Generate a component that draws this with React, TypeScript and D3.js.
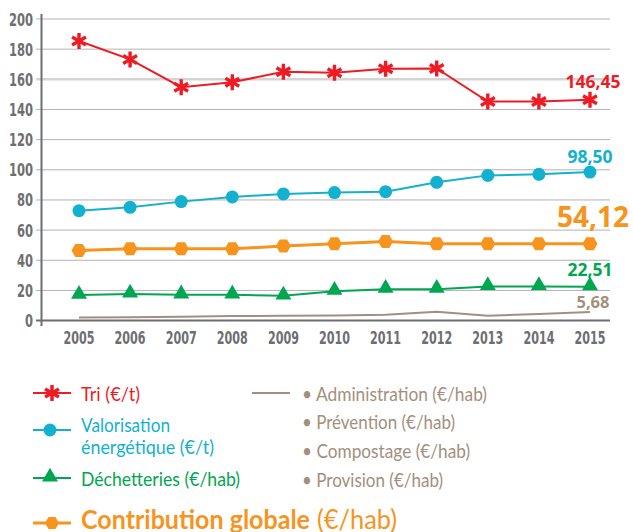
import * as d3 from 'd3';

const years = ['2005', '2006', '2007', '2008', '2009', '2010', '2011', '2012', '2013', '2014', '2015'];
const tri = [185.4, 173.2, 154.8, 158.1, 165.0, 164.4, 167.0, 167.2, 145.3, 145.3, 146.45];
const valorisation = [72.9, 75.1, 78.9, 82.0, 84.0, 84.9, 85.5, 91.7, 96.3, 97.0, 98.5];
const contribution = [46.5, 47.6, 47.6, 47.6, 49.4, 51.0, 52.5, 51.0, 51.0, 51.0, 51.0];
const dechetteries = [16.9, 17.7, 17.1, 17.1, 16.4, 19.5, 20.8, 20.8, 22.6, 22.6, 22.51];
const administration = [2.0, 2.3, 2.6, 3.0, 3.2, 3.3, 3.8, 5.9, 3.2, 4.3, 5.68];
const yTicks = [0, 20, 40, 60, 80, 100, 120, 140, 160, 180, 200];
const endLabels = ['146,45', '98,50', '54,12', '22,51', '5,68'];
const otherItems = ['Administration (€/hab)', 'Prévention (€/hab)', 'Compostage (€/hab)', 'Provision (€/hab)'];
const otherWidths = [185, 153, 168, 141];

const RED = '#ed1c24';
const BLUE = '#13b1cf';
const GREEN = '#00a651';
const ORANGE = '#f7941d';
const BROWN = '#a38f7d';
const GREY = '#6d6e71';

const tickFont = "'Liberation Sans Narrow', 'DejaVu Sans Condensed', sans-serif";
const labelFont = "'Open Sans', sans-serif";
const legendFont = "Lato, 'Open Sans', sans-serif";

const x = d3.scalePoint<string>().domain(years).range([79, 590]);
const y = d3.scaleLinear().domain([0, 200]).range([320.6, 19]);

const line = d3
  .line<number>()
  .x((_, i) => x(years[i])!)
  .y((d) => y(d));

function star(cx: number, cy: number, r = 7) {
  const p = d3.path();
  for (let k = 0; k < 3; k++) {
    const a = (Math.PI / 3) * k + Math.PI / 2;
    p.moveTo(cx + r * Math.cos(a), cy + r * Math.sin(a));
    p.lineTo(cx - r * Math.cos(a), cy - r * Math.sin(a));
  }
  return p.toString();
}

function hexagon(cx: number, cy: number, r = 7) {
  const pts = d3.range(6).map((k) => {
    const a = (Math.PI / 3) * k;
    return [cx + r * Math.cos(a), cy + r * Math.sin(a)] as [number, number];
  });
  return 'M' + pts.map((p) => p.join(',')).join('L') + 'Z';
}

const triangle = d3.symbol(d3.symbolTriangle, 110);

// squeeze text to the width measured on the reference
const fit = (w: number) => ({ textLength: w, lengthAdjust: 'spacingAndGlyphs' as const });

function Legend() {
  return (
    <g fontFamily={legendFont}>
      {/* Tri */}
      <line x1={33} x2={71} y1={393} y2={393} stroke={RED} strokeWidth={2} />
      <path d={star(52, 393, 8)} stroke={RED} strokeWidth={3.5} />
      <text x={81} y={401} fill={RED} fontSize={20} {...fit(59)}>Tri (€/t)</text>
      {/* Valorisation */}
      <line x1={33} x2={71} y1={430} y2={430} stroke={BLUE} strokeWidth={2} />
      <circle cx={50} cy={430} r={6.5} fill={BLUE} />
      <text x={81} y={432} fill={BLUE} fontSize={20} {...fit(89)}>Valorisation</text>
      <text x={81} y={454} fill={BLUE} fontSize={20} {...fit(133)}>énergétique (€/t)</text>
      {/* Déchetteries */}
      <line x1={33} x2={71} y1={478} y2={478} stroke={GREEN} strokeWidth={2} />
      <path d={triangle()!} transform={`translate(50,477)`} fill={GREEN} />
      <text x={81} y={486} fill={GREEN} fontSize={20} {...fit(159)}>Déchetteries (€/hab)</text>
      {/* Contribution */}
      <line x1={33} x2={71} y1={523} y2={523} stroke={ORANGE} strokeWidth={3} />
      <path d={hexagon(52, 523, 7)} fill={ORANGE} />
      <text x={81} y={529} fill={ORANGE} fontSize={27} fontWeight={700} {...fit(229)}>
        Contribution globale
      </text>
      <text x={317} y={529} fill={ORANGE} fontSize={27} {...fit(80)}>
        (€/hab)
      </text>
      {/* Other */}
      <line x1={252} x2={290} y1={393} y2={393} stroke={BROWN} strokeWidth={2} />
      {otherItems.map((t, i) => (
        <text key={t} x={302} y={400.5 + i * 28.7} fill={BROWN} fontSize={20} {...fit(otherWidths[i])}>
          • {t}
        </text>
      ))}
    </g>
  );
}

export default function App() {
  const series = [
    { data: tri, color: RED, w: 2 },
    { data: valorisation, color: BLUE, w: 2 },
    { data: contribution, color: ORANGE, w: 3 },
    { data: dechetteries, color: GREEN, w: 2 },
    { data: administration, color: BROWN, w: 2 },
  ];
  return (
    <svg width={633} height={532} style={{ position: 'absolute', left: 0, top: 0, background: '#fff' }}>
      {/* grid */}
      {yTicks.slice(1).map((t) => (
        <line
          key={t}
          x1={36}
          x2={610}
          y1={y(t)}
          y2={y(t)}
          stroke={t === 160 ? '#d4d4d4' : '#b3b3b3'}
          strokeWidth={t === 160 ? 2.5 : 1}
        />
      ))}
      {/* axes */}
      <line x1={41.5} x2={41.5} y1={14} y2={326} stroke={GREY} strokeWidth={2} />
      <line x1={36} x2={610} y1={y(0)} y2={y(0)} stroke={GREY} strokeWidth={2} />
      {yTicks.map((t) => (
        <text
          key={t}
          x={33}
          y={y(t) + 6.5}
          textAnchor="end"
          fontFamily={tickFont}
          fontWeight={700}
          fontSize={18}
          fill={GREY}
          {...fit(String(t).length * 8)}
        >
          {t}
        </text>
      ))}
      {years.map((yr) => (
        <text
          key={yr}
          x={x(yr)}
          y={343.5}
          textAnchor="middle"
          fontFamily={tickFont}
          fontWeight={700}
          fontSize={18}
          fill={GREY}
          {...fit(31)}
        >
          {yr}
        </text>
      ))}
      {/* lines */}
      {series.map((s, i) => (
        <path key={i} d={line(s.data)!} fill="none" stroke={s.color} strokeWidth={s.w} />
      ))}
      {/* markers */}
      {tri.map((v, i) => (
        <path key={'t' + i} d={star(x(years[i])!, y(v), 8)} stroke={RED} strokeWidth={3.4} />
      ))}
      {valorisation.map((v, i) => (
        <circle key={'v' + i} cx={x(years[i])} cy={y(v)} r={6.5} fill={BLUE} />
      ))}
      {contribution.map((v, i) => (
        <path key={'c' + i} d={hexagon(x(years[i])!, y(v), 7.5)} fill={ORANGE} />
      ))}
      {dechetteries.map((v, i) => (
        <path
          key={'d' + i}
          d={triangle()!}
          transform={`translate(${x(years[i])},${y(v) - 1})`}
          fill={GREEN}
        />
      ))}
      {/* end labels */}
      <g fontFamily={labelFont} fontWeight={700} textAnchor="middle">
        <text x={593} y={88} fontSize={17.5} fill={RED}>{endLabels[0]}</text>
        <text x={590} y={163} fontSize={17.5} fill={BLUE}>{endLabels[1]}</text>
        <text x={593} y={227} fontSize={28} fill={ORANGE}>{endLabels[2]}</text>
        <text x={590} y={276} fontSize={17.5} fill={GREEN}>{endLabels[3]}</text>
        <text x={593} y={308} fontSize={16.5} fill={BROWN}>{endLabels[4]}</text>
      </g>
      <Legend />
    </svg>
  );
}
